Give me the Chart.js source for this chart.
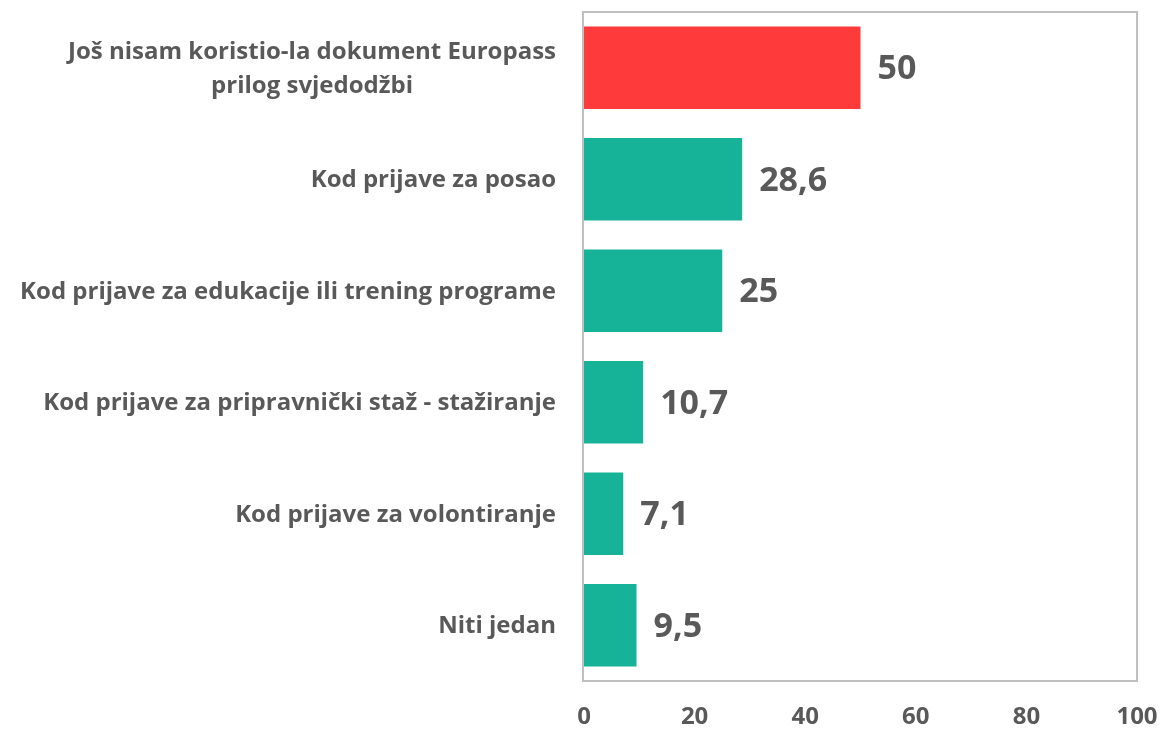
<!DOCTYPE html>
<html>
<head>
<meta charset="utf-8">
<script src="https://cdn.jsdelivr.net/npm/chart.js@4/dist/chart.umd.min.js"></script>
<style>
  body { margin: 0; background: #fff; }
</style>
</head>
<body>
<canvas id="myChart" width="1160" height="729"></canvas>
<script>
var categories = [
    ['Još nisam koristio-la dokument Europass', 'prilog svjedodžbi'],
    'Kod prijave za posao',
    'Kod prijave za edukacije ili trening programe',
    'Kod prijave za pripravnički staž - stažiranje',
    'Kod prijave za volontiranje',
    'Niti jedan'
];
var values = [50, 28.6, 25, 10.7, 7.1, 9.5];
var barColors = ['#ff3a3a', '#17b398', '#17b398', '#17b398', '#17b398', '#17b398'];
var xTicks = [0, 20, 40, 60, 80, 100];

var textColor = '#595959';
var fontFamily = '"Open Sans", Lato, sans-serif';

// frame around the plot area
var framePlugin = {
    id: 'frame',
    afterDraw: function(chart) {
        var a = chart.chartArea;
        var c = chart.ctx;
        c.save();
        c.strokeStyle = '#bfbfbf';
        c.lineWidth = 2;
        c.strokeRect(a.left - 1, a.top, a.right - a.left + 1, a.bottom - a.top);
        c.restore();
    }
};

// category labels: block right aligned, lines centred on each other
var catLabels = {
    id: 'catLabels',
    afterDraw: function(chart) {
        var c = chart.ctx;
        var y = chart.scales.y;
        var right = chart.chartArea.left - 28;
        c.save();
        c.font = 'bold 24px ' + fontFamily;
        c.fillStyle = textColor;
        c.textAlign = 'center';
        c.textBaseline = 'middle';
        categories.forEach(function(lab, i) {
            var lines = Array.isArray(lab) ? lab : [lab];
            var w = 0;
            lines.forEach(function(l) { w = Math.max(w, c.measureText(l).width); });
            var cx = right - w / 2;
            var lh = 34;
            var cy = y.getPixelForTick(i) + 1 - (lines.length - 1) * lh / 2;
            lines.forEach(function(l, k) { c.fillText(l, cx, cy + k * lh); });
        });
        c.restore();
    }
};

// value labels after each bar
var valueLabels = {
    id: 'valueLabels',
    afterDatasetsDraw: function(chart) {
        var c = chart.ctx;
        var meta = chart.getDatasetMeta(0);
        c.save();
        c.font = 'bold 34px ' + fontFamily;
        c.fillStyle = textColor;
        c.textAlign = 'left';
        c.textBaseline = 'middle';
        meta.data.forEach(function(bar, i) {
            c.fillText(String(values[i]).replace('.', ','), bar.x + 17, bar.y + 2);
        });
        c.restore();
    }
};

var ctx = document.getElementById('myChart').getContext('2d');
var myChart = new Chart(ctx, {
    type: 'bar',
    data: {
        labels: categories,
        datasets: [{
            data: values,
            backgroundColor: barColors,
            borderWidth: 0,
            categoryPercentage: 1,
            barPercentage: 0.74
        }]
    },
    options: {
        indexAxis: 'y',
        responsive: false,
        animation: false,
        layout: { padding: { top: 12, right: 23, bottom: 0, left: 0 } },
        plugins: {
            legend: { display: false },
            tooltip: { enabled: false }
        },
        scales: {
            x: {
                min: 0,
                max: 100,
                afterBuildTicks: function(scale) {
                    scale.ticks = xTicks.map(function(v) { return { value: v }; });
                },
                afterFit: function(scale) {
                    scale.height = 48;
                    scale.paddingLeft = 0;
                    scale.paddingRight = 0;
                },
                grid: { display: false, drawTicks: false },
                border: { display: false },
                ticks: {
                    color: textColor,
                    padding: 22,
                    maxRotation: 0,
                    minRotation: 0,
                    autoSkip: false,
                    font: { family: fontFamily, size: 24, weight: 'bold' }
                }
            },
            y: {
                grid: { display: false, drawTicks: false },
                border: { display: false },
                ticks: { display: false },
                afterFit: function(scale) { scale.width = 584; }
            }
        }
    },
    plugins: [framePlugin, catLabels, valueLabels]
});
</script>
</body>
</html>
